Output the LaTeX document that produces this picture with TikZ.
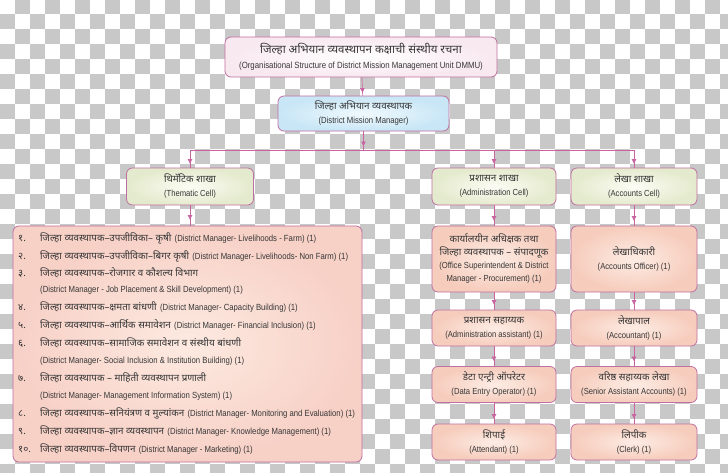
\documentclass[tikz,border=0pt]{standalone}
\usepackage{fontspec}
\usetikzlibrary{arrows.meta,decorations.markings}
\newfontfamily\devf[Script=Devanagari]{Noto Sans}
\newfontfamily\latf[FakeStretch=0.87]{Liberation Sans}
\definecolor{chk}{RGB}{200,200,200}
\definecolor{bcol}{RGB}{192,112,160}
\definecolor{acol}{RGB}{200,100,160}
\definecolor{txt}{RGB}{55,55,55}
\newcommand\mydev[2][9.8]{{\devf\fontsize{#1}{#1}\selectfont #2}}
\newcommand\mylat[2][8.9]{{\latf\fontsize{#1}{#1}\selectfont #2}}
\tikzset{
  con/.style={draw=acol, line width=0.7pt},
  midtip/.style={postaction={decorate}, decoration={markings, mark=at position #1 with {\arrow[acol]{Triangle[length=4.5pt,width=4.5pt]}}}},
  box/.style={draw=bcol, line width=0.8pt, rounded corners=6pt, align=center, inner sep=1pt, text=txt},
  titlebox/.style={box, inner color=white, outer color={rgb,255:red,248;green,232;blue,240}, minimum width=272pt, minimum height=40pt},
  bluebox/.style={box, inner color={rgb,255:red,240;green,249;blue,253}, outer color={rgb,255:red,200;green,230;blue,246}, minimum width=171pt, minimum height=35pt},
  cellbox/.style={box, inner color={rgb,255:red,252;green,252;blue,244}, outer color={rgb,255:red,228;green,234;blue,205}, minimum height=37pt},
  peachbox/.style={box, inner color={rgb,255:red,253;green,236;blue,228}, outer color={rgb,255:red,246;green,204;blue,188}, minimum width=124pt},
  listbox/.style={box, inner color={rgb,255:red,253;green,234;blue,225}, outer color={rgb,255:red,247;green,208;blue,198}, minimum width=349pt, minimum height=236pt},
  num/.style={anchor=mid west, inner sep=0pt, text=txt},
  item/.style={anchor=mid west, inner sep=0pt, text=txt},
}
\begin{document}
\begin{tikzpicture}[x=1pt,y=-1pt]
\useasboundingbox (0,0) rectangle (728,472);
% checkerboard background
\begin{scope}
\clip (0,0) rectangle (728,472);
\fill[white] (0,0) rectangle (728,472);
\foreach \j in {0,...,31}{
  \foreach \k in {0,...,24}{
    \pgfmathsetmacro\xx{(2*\k+1-mod(\j,2))*15}
    \fill[chk] (\xx,{\j*15-1.5}) rectangle ++(15,15);
  }
}
\end{scope}

% top nodes
\node[titlebox] (title) at (361,57) {\mydev[11.5]{जिल्हा अभियान व्यवस्थापन कक्षाची संस्थीय रचना}\\[3pt]\mylat[9]{(Organisational Structure of District Mission Management Unit DMMU)}};
\node[bluebox] (dmm) at (363.5,113.5) {\mydev[9.8]{जिल्हा अभियान व्यवस्थापक}\\[2pt]\mylat[8.9]{(District Mission Manager)}};

\coordinate (busL) at (190,150);
\coordinate (busM) at (363.5,150);
\coordinate (busA) at (494,150);
\coordinate (busR) at (634,150);

\node[cellbox, minimum width=127pt] (them) at (190,186.5) {\mydev[9.8]{थिमॅटिक शाखा}\\[2pt]\mylat[8.8]{(Thematic Cell)}};
\node[cellbox, minimum width=124pt] (adm) at (494,186.5) {\mydev[9.8]{प्रशासन शाखा}\\[2pt]\mylat[8.8]{(Administration Cell)}};
\node[cellbox, minimum width=126pt] (acc) at (634,186.5) {\mydev[9.8]{लेखा शाखा}\\[2pt]\mylat[8.8]{(Accounts Cell)}};

% list box
\node[listbox] (list) at (187.5,344) {};
\node[num] (n1) at (18,239) {\mydev{१.}};
\node[item] (t1) at (40,239) {\mydev{जिल्हा व्यवस्थापक–उपजीविका– कृषी} \mylat{(District Manager- Livelihoods - Farm) (1)}};
\node[num] (n2) at (18,257) {\mydev{२.}};
\node[item] (t2) at (40,257) {\mydev{जिल्हा व्यवस्थापक–उपजीविका–बिगर कृषी} \mylat{(District Manager- Livelihoods- Non Farm) (1)}};
\node[num] (n3) at (18,274) {\mydev{३.}};
\node[item] (t3) at (40,274) {\mydev{जिल्हा व्यवस्थापक–रोजगार व कौशल्य विभाग}};
\node[item] (t3b) at (40,290) {\mylat{(District Manager - Job Placement \& Skill Development) (1)}};
\node[num] (n4) at (18,308) {\mydev{४.}};
\node[item] (t4) at (40,308) {\mydev{जिल्हा व्यवस्थापक–क्षमता बांधणी} \mylat{(District Manager- Capacity Building) (1)}};
\node[num] (n5) at (18,326) {\mydev{५.}};
\node[item] (t5) at (40,326) {\mydev{जिल्हा व्यवस्थापक–आर्थिक समावेशन} \mylat{(District Manager- Financial Inclusion) (1)}};
\node[num] (n6) at (18,344) {\mydev{६.}};
\node[item] (t6) at (40,344) {\mydev{जिल्हा व्यवस्थापक–सामाजिक समावेशन व संस्थीय बांधणी}};
\node[item] (t6b) at (40,361) {\mylat{(District Manager- Social Inclusion \& Institution Building) (1)}};
\node[num] (n7) at (18,379) {\mydev{७.}};
\node[item] (t7) at (40,379) {\mydev{जिल्हा व्यवस्थापक – माहिती व्यवस्थापन प्रणाली}};
\node[item] (t7b) at (40,396) {\mylat{(District Manager- Management Information System) (1)}};
\node[num] (n8) at (18,414) {\mydev{८.}};
\node[item] (t8) at (40,414) {\mydev{जिल्हा व्यवस्थापक–सनियंत्रण व मुल्यांकन} \mylat{(District Manager- Monitoring and Evaluation) (1)}};
\node[num] (n9) at (18,432) {\mydev{९.}};
\node[item] (t9) at (40,432) {\mydev{जिल्हा व्यवस्थापक–ज्ञान व्यवस्थापन} \mylat{(District Manager- Knowledge Management) (1)}};
\node[num] (n10) at (18,450) {\mydev{१०.}};
\node[item] (t10) at (40,450) {\mydev{जिल्हा व्यवस्थापक–विपणन} \mylat{(District Manager - Marketing) (1)}};

% admin column
\node[peachbox, minimum height=66pt] (a1) at (494,259) {\mydev[9.8]{कार्यालयीन अधिक्षक तथा}\\[1pt]\mydev[9.8]{जिल्हा व्यवस्थापक – संपादणूक}\\[1pt]\mylat[8.8]{(Office Superintendent \& District}\\[1pt]\mylat[8.8]{Manager - Procurement) (1)}};
\node[peachbox, minimum height=36pt] (a2) at (494,328) {\mydev[9.8]{प्रशासन सहाय्यक}\\[2pt]\mylat[8.8]{(Administration assistant) (1)}};
\node[peachbox, minimum height=36pt] (a3) at (494,384.5) {\mydev[9.8]{डेटा एन्ट्री ऑपरेटर}\\[2pt]\mylat[8.8]{(Data Entry Operator) (1)}};
\node[peachbox, minimum height=36pt] (a4) at (494,442) {\mydev[9.8]{शिपाई}\\[2pt]\mylat[8.8]{(Attendant) (1)}};

% accounts column
\node[peachbox, minimum width=126pt, minimum height=66pt] (c1) at (634,259) {\mydev[9.8]{लेखाधिकारी}\\[2pt]\mylat[8.8]{(Accounts Officer) (1)}};
\node[peachbox, minimum width=126pt, minimum height=36pt] (c2) at (634,328) {\mydev[9.8]{लेखापाल}\\[2pt]\mylat[8.8]{(Accountant) (1)}};
\node[peachbox, minimum width=126pt, minimum height=36pt] (c3) at (634,384.5) {\mydev[9.8]{वरिष्ठ सहाय्यक लेखा}\\[2pt]\mylat[8.8]{(Senior Assistant Accounts) (1)}};
\node[peachbox, minimum width=126pt, minimum height=36pt] (c4) at (634,442) {\mydev[9.8]{लिपीक}\\[2pt]\mylat[8.8]{(Clerk) (1)}};

% connectors
\draw[con, midtip=-3pt] (title) -- (dmm);
\draw[con, midtip=-4pt] (dmm.south) -- (busM);
\draw[con] (busL) -- (busR);
\draw[con, midtip=-4pt] (busL) -- (them.north);
\draw[con, midtip=-4pt] (busA) -- (adm.north);
\draw[con, midtip=-4pt] (busR) -- (acc.north);
\draw[con, midtip=-6pt] (them.south) -- (them.south |- list.north);
\draw[con, midtip=-5pt] (adm) -- (a1);
\draw[con, midtip=-5pt] (a1) -- (a2);
\draw[con, midtip=-5pt] (a2) -- (a3);
\draw[con, midtip=-5pt] (a3) -- (a4);
\draw[con, midtip=-5pt] (acc) -- (c1);
\draw[con, midtip=-5pt] (c1) -- (c2);
\draw[con, midtip=-5pt] (c2) -- (c3);
\draw[con, midtip=-5pt] (c3) -- (c4);
\end{tikzpicture}
\end{document}
